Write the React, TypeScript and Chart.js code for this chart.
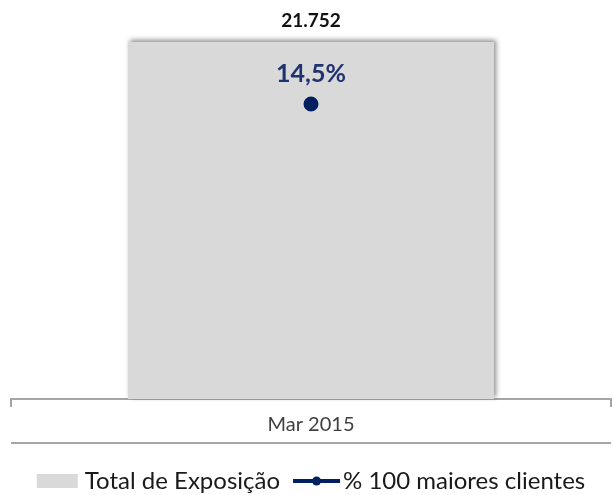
import React, { useEffect, useRef } from "react";
import { Chart, registerables } from "chart.js";

Chart.register(...registerables);

const categories = ["Mar 2015"];
const totalExposicao = [21752];
const pct100Maiores = [14.5];
const seriesNames = ["Total de Exposição", "% 100 maiores clientes"];
const totalLabels = ["21.752"];
const pctLabels = ["14,5%"];

const FONT = "Lato, 'Liberation Sans', sans-serif";
const NAVY = "#002060";
const BAR_GRAY = "#d9d9d9";
const AXIS_GRAY = "#a6a6a6";

const decorPlugin = {
  id: "decor",
  beforeDatasetDraw(chart: any, args: any) {
    if (chart.data.datasets[args.index].type === "bar") {
      const ctx = chart.ctx;
      ctx.save();
      ctx.shadowColor = "rgba(0,0,0,0.45)";
      ctx.shadowBlur = 5;
      ctx.shadowOffsetX = 2;
      ctx.shadowOffsetY = -2;
    }
  },
  afterDatasetDraw(chart: any, args: any) {
    if (chart.data.datasets[args.index].type === "bar") {
      chart.ctx.restore();
    }
  },
  afterDatasetsDraw(chart: any) {
    const ctx = chart.ctx;
    const barMeta = chart.getDatasetMeta(1);
    const lineMeta = chart.getDatasetMeta(0);
    ctx.save();
    ctx.textAlign = "center";
    ctx.textBaseline = "middle";
    barMeta.data.forEach((el: any, i: number) => {
      ctx.font = `bold 19px ${FONT}`;
      ctx.fillStyle = "#111111";
      ctx.fillText(totalLabels[i], el.x, el.y - 21);
    });
    lineMeta.data.forEach((el: any, i: number) => {
      ctx.font = `bold 25px ${FONT}`;
      ctx.fillStyle = "#1f3370";
      ctx.fillText(pctLabels[i], el.x, el.y - 30);
    });
    ctx.restore();
  },
  afterDraw(chart: any) {
    const ctx = chart.ctx;
    const area = chart.chartArea;
    const xs = chart.scales.x;
    ctx.save();
    // bottom line of category axis box
    ctx.strokeStyle = AXIS_GRAY;
    ctx.lineWidth = 2;
    ctx.beginPath();
    ctx.moveTo(area.left, xs.bottom);
    ctx.lineTo(area.right, xs.bottom);
    ctx.stroke();

    // legend
    ctx.font = `24px ${FONT}`;
    ctx.textBaseline = "middle";
    const boxW = 41;
    const boxH = 14;
    const gap1 = 7;
    const lineW = 47;
    const gap2 = 3;
    const between = 13;
    const w0 = ctx.measureText(seriesNames[0]).width;
    const w1 = ctx.measureText(seriesNames[1]).width;
    const total = boxW + gap1 + w0 + between + lineW + gap2 + w1;
    const cx = (area.left + area.right) / 2;
    let x = cx - total / 2;
    const y = xs.bottom + 38;
    ctx.fillStyle = BAR_GRAY;
    ctx.fillRect(x, y - boxH / 2, boxW, boxH);
    x += boxW + gap1;
    ctx.fillStyle = "#1a1a1a";
    ctx.textAlign = "left";
    ctx.fillText(seriesNames[0], x, y);
    x += w0 + between;
    ctx.strokeStyle = NAVY;
    ctx.lineWidth = 4;
    ctx.beginPath();
    ctx.moveTo(x, y);
    ctx.lineTo(x + lineW, y);
    ctx.stroke();
    ctx.fillStyle = NAVY;
    ctx.beginPath();
    ctx.arc(x + lineW / 2, y, 4.5, 0, Math.PI * 2);
    ctx.fill();
    x += lineW + gap2;
    ctx.fillStyle = "#1a1a1a";
    ctx.fillText(seriesNames[1], x, y);
    ctx.restore();
  },
};

export default function App() {
  const ref = useRef<HTMLCanvasElement | null>(null);
  useEffect(() => {
    document.body.style.margin = "0";
    if (!ref.current) return;
    const chart = new Chart(ref.current, {
      type: "bar",
      data: {
        labels: categories,
        datasets: [
          {
            type: "line",
            label: seriesNames[1],
            data: pct100Maiores,
            yAxisID: "y1",
            borderColor: NAVY,
            backgroundColor: NAVY,
            borderWidth: 3,
            pointRadius: 6,
            pointBackgroundColor: NAVY,
            pointBorderColor: NAVY,
            order: 0,
            clip: false,
          } as any,
          {
            type: "bar",
            label: seriesNames[0],
            data: totalExposicao,
            yAxisID: "y",
            backgroundColor: BAR_GRAY,
            barPercentage: 0.61,
            categoryPercentage: 1,
            order: 1,
            clip: false,
          } as any,
        ],
      },
      options: {
        responsive: false,
        animation: false,
        devicePixelRatio: 1,
        layout: { autoPadding: false, padding: { top: 42, left: 11, right: 2, bottom: 52 } },
        plugins: { legend: { display: false }, tooltip: { enabled: false } },
        scales: {
          x: {
            grid: {
              offset: true,
              drawOnChartArea: false,
              tickLength: 8,
              color: AXIS_GRAY,
              lineWidth: 2,
            },
            border: { display: true, color: AXIS_GRAY, width: 2 },
            ticks: {
              font: { family: FONT, size: 20 },
              color: "#404040",
              padding: 6,
            },
          },
          y: { display: false, min: 0, max: 21752 },
          y1: { display: false, min: 0, max: 17.55 },
        },
      },
      plugins: [decorPlugin],
    });
    return () => chart.destroy();
  }, []);
  return (
    <div style={{ width: 613, height: 495 }}>
      <canvas ref={ref} width={613} height={495} />
    </div>
  );
}
